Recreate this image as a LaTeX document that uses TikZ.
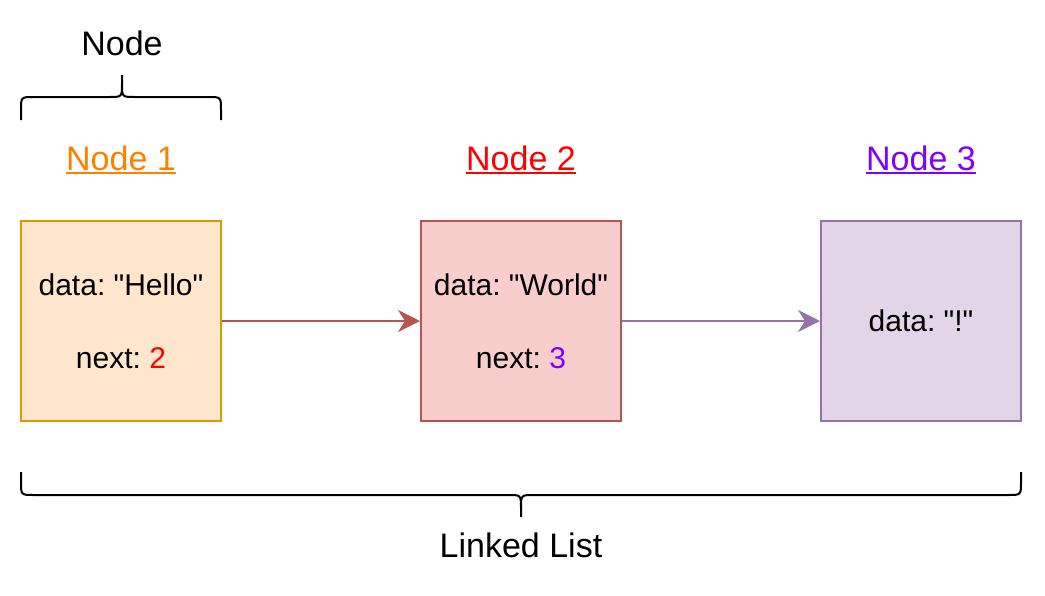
\documentclass[tikz,border=0pt]{standalone}
\usepackage{fontspec}
\setmainfont{Liberation Sans}[Ligatures=TeXOff]
\usetikzlibrary{arrows.meta}
\frenchspacing
\definecolor{n1fill}{HTML}{FFE6CC}
\definecolor{n1line}{HTML}{D79B00}
\definecolor{n2fill}{HTML}{F8CECC}
\definecolor{n2line}{HTML}{B85450}
\definecolor{n3fill}{HTML}{E1D5E7}
\definecolor{n3line}{HTML}{9673A6}
\definecolor{lblorange}{HTML}{FF8000}
\definecolor{lblred}{HTML}{FF0000}
\definecolor{lblpurple}{HTML}{7F00FF}
\tikzset{
  listbox/.style={draw, line width=2pt, minimum width=200pt, minimum height=200pt,
    inner sep=0pt, align=center, font=\fontsize{30}{36}\selectfont\frenchspacing},
  toplabel/.style={anchor=base, inner sep=0pt, font=\fontsize{34}{40}\selectfont},
  ulline/.style={line width=2.5pt},
  brace/.style={draw=black, line width=2pt, line join=round},
  link/.style={line width=2pt, -{Stealth[length=22pt,width=22pt,inset=7pt]}},
}
\begin{document}
\begin{tikzpicture}[x=1pt,y=-1pt]
\useasboundingbox (0,0) rectangle (1045,595);
% boxes
\node[listbox, fill=n1fill, draw=n1line] (b1) at (121,321) {data: "Hello"\\[37pt]next: \textcolor{lblred}{2}};
\node[listbox, fill=n2fill, draw=n2line] (b2) at (521,321) {data: "World"\\[37pt]next: \textcolor{lblpurple}{3}};
\node[listbox, fill=n3fill, draw=n3line] (b3) at (921,321) {data: "!"};
% links
\draw[link, n2line] (b1.east) -- (b2.west);
\draw[link, n3line] (b2.east) -- (b3.west);
% node labels
\node[toplabel, text=lblorange] (l1) at (121,170) {Node 1};
\node[toplabel, text=lblred] (l2) at (521,170) {Node 2};
\node[toplabel, text=lblpurple] (l3) at (921,170) {Node 3};
\draw[ulline, lblorange] ([yshift=-3pt]l1.base west) -- ([yshift=-3pt]l1.base east);
\draw[ulline, lblred] ([yshift=-3pt]l2.base west) -- ([yshift=-3pt]l2.base east);
\draw[ulline, lblpurple] ([yshift=-3pt]l3.base west) -- ([yshift=-3pt]l3.base east);
% top brace
\draw[brace] (21,120) -- (21,110) .. controls (21,97) .. (34,97) -- (109,97)
  .. controls (122,97) .. (122,84) -- (122,75);
\draw[brace] (122,84) .. controls (122,97) .. (135,97) -- (208,97)
  .. controls (221,97) .. (221,110) -- (221,120);
\node[toplabel] (nodelbl) at (122,55) {Node};
% bottom brace
\draw[brace] (21,472) -- (21,482) .. controls (21,495) .. (34,495) -- (508,495)
  .. controls (521,495) .. (521,508) -- (521,517);
\draw[brace] (521,508) .. controls (521,495) .. (534,495) -- (1008,495)
  .. controls (1021,495) .. (1021,482) -- (1021,472);
\node[toplabel] (listlbl) at (521,557) {Linked List};
\end{tikzpicture}
\end{document}
